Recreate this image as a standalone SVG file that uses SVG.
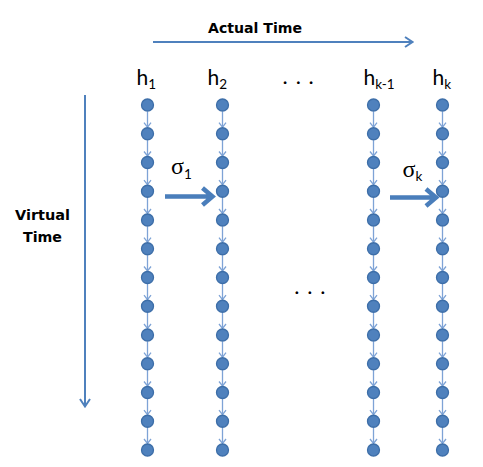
<svg xmlns="http://www.w3.org/2000/svg" width="483" height="467" viewBox="0 0 483 467">
<style>
.n{fill:#4f81bd;stroke:#3d6ea8;stroke-width:1.3}
.c{stroke:#7ea3d6;stroke-width:1.3;fill:none;marker-end:url(#sm)}
.ax{stroke:#4f81bd;stroke-width:2;fill:none}
.sg{stroke:#4a7ebb;stroke-width:4.5;fill:none}
.lbl{font-family:Lato,'Liberation Sans',sans-serif;fill:#000}
.ttl{font-family:'DejaVu Sans','Liberation Sans',sans-serif;font-weight:bold;font-size:13.5px;fill:#000}
.sig{font-family:'Liberation Serif','DejaVu Serif',serif;font-size:24px;fill:#000}
</style>
<defs>
<marker id="sm" markerUnits="userSpaceOnUse" markerWidth="10" markerHeight="10" viewBox="-6 -5 8 10" refX="0" refY="0" orient="auto">
<path d="M-4.5,-3.5 L0,0 L-4.5,3.5" fill="none" stroke="#7ea3d6" stroke-width="1.3"/>
</marker>
</defs>
<g id="axes">
<path class="ax" d="M153,42 H412 M405,37 L412.5,42 L405,47"/>
<path class="ax" d="M85,95 V406 M80,399 L85,406.5 L90,399"/>
<text class="ttl" x="208" y="33" textLength="94" lengthAdjust="spacingAndGlyphs">Actual Time</text>
<text class="ttl" x="15" y="220" textLength="55" lengthAdjust="spacingAndGlyphs">Virtual</text>
<text class="ttl" x="23" y="242" textLength="39" lengthAdjust="spacingAndGlyphs">Time</text>
</g>
<g id="labels">
<text class="lbl" x="136.5" y="85" font-size="21">h<tspan font-size="13.5" dy="4">1</tspan></text>
<text class="lbl" x="207.5" y="85" font-size="21">h<tspan font-size="13.5" dy="4">2</tspan></text>
<text class="lbl" x="363.5" y="85" font-size="21">h<tspan font-size="13.5" dy="4">k-1</tspan></text>
<text class="lbl" x="432.5" y="85" font-size="21">h<tspan font-size="13.5" dy="4">k</tspan></text>
<text class="lbl" font-size="22" x="282.5 295.8 308.5" y="84">...</text>
<text class="lbl" font-size="22" x="294.2 307.2 320.2" y="294">...</text>
<text class="sig" x="171" y="173.5">σ<tspan font-size="13.5" font-family="Lato,'Liberation Sans',sans-serif" dy="5">1</tspan></text>
<text class="sig" x="402.5" y="176.5">σ<tspan font-size="13.5" font-family="Lato,'Liberation Sans',sans-serif" dy="4">k</tspan></text>
</g>
<g id="connectors">
<path class="sg" d="M165,196.5 H212 M202.5,188 L212.5,196.5 L202.5,205"/>
<path class="sg" d="M390,197.5 H435.5 M426,189 L436,197.5 L426,206"/>
<line class="c" x1="147.5" y1="111.5" x2="147.5" y2="127.2"/>
<line class="c" x1="147.5" y1="140.2" x2="147.5" y2="156"/>
<line class="c" x1="147.5" y1="169" x2="147.5" y2="184.7"/>
<line class="c" x1="147.5" y1="197.7" x2="147.5" y2="213.5"/>
<line class="c" x1="147.5" y1="226.5" x2="147.5" y2="242.2"/>
<line class="c" x1="147.5" y1="255.2" x2="147.5" y2="271"/>
<line class="c" x1="147.5" y1="284" x2="147.5" y2="299.7"/>
<line class="c" x1="147.5" y1="312.7" x2="147.5" y2="328.5"/>
<line class="c" x1="147.5" y1="341.5" x2="147.5" y2="357.2"/>
<line class="c" x1="147.5" y1="370.2" x2="147.5" y2="386"/>
<line class="c" x1="147.5" y1="399" x2="147.5" y2="414.7"/>
<line class="c" x1="147.5" y1="427.7" x2="147.5" y2="443.5"/>
<line class="c" x1="222.5" y1="111.5" x2="222.5" y2="127.2"/>
<line class="c" x1="222.5" y1="140.2" x2="222.5" y2="156"/>
<line class="c" x1="222.5" y1="169" x2="222.5" y2="184.7"/>
<line class="c" x1="222.5" y1="197.7" x2="222.5" y2="213.5"/>
<line class="c" x1="222.5" y1="226.5" x2="222.5" y2="242.2"/>
<line class="c" x1="222.5" y1="255.2" x2="222.5" y2="271"/>
<line class="c" x1="222.5" y1="284" x2="222.5" y2="299.7"/>
<line class="c" x1="222.5" y1="312.7" x2="222.5" y2="328.5"/>
<line class="c" x1="222.5" y1="341.5" x2="222.5" y2="357.2"/>
<line class="c" x1="222.5" y1="370.2" x2="222.5" y2="386"/>
<line class="c" x1="222.5" y1="399" x2="222.5" y2="414.7"/>
<line class="c" x1="222.5" y1="427.7" x2="222.5" y2="443.5"/>
<line class="c" x1="373.5" y1="111.5" x2="373.5" y2="127.2"/>
<line class="c" x1="373.5" y1="140.2" x2="373.5" y2="156"/>
<line class="c" x1="373.5" y1="169" x2="373.5" y2="184.7"/>
<line class="c" x1="373.5" y1="197.7" x2="373.5" y2="213.5"/>
<line class="c" x1="373.5" y1="226.5" x2="373.5" y2="242.2"/>
<line class="c" x1="373.5" y1="255.2" x2="373.5" y2="271"/>
<line class="c" x1="373.5" y1="284" x2="373.5" y2="299.7"/>
<line class="c" x1="373.5" y1="312.7" x2="373.5" y2="328.5"/>
<line class="c" x1="373.5" y1="341.5" x2="373.5" y2="357.2"/>
<line class="c" x1="373.5" y1="370.2" x2="373.5" y2="386"/>
<line class="c" x1="373.5" y1="399" x2="373.5" y2="414.7"/>
<line class="c" x1="373.5" y1="427.7" x2="373.5" y2="443.5"/>
<line class="c" x1="442.5" y1="111.5" x2="442.5" y2="127.2"/>
<line class="c" x1="442.5" y1="140.2" x2="442.5" y2="156"/>
<line class="c" x1="442.5" y1="169" x2="442.5" y2="184.7"/>
<line class="c" x1="442.5" y1="197.7" x2="442.5" y2="213.5"/>
<line class="c" x1="442.5" y1="226.5" x2="442.5" y2="242.2"/>
<line class="c" x1="442.5" y1="255.2" x2="442.5" y2="271"/>
<line class="c" x1="442.5" y1="284" x2="442.5" y2="299.7"/>
<line class="c" x1="442.5" y1="312.7" x2="442.5" y2="328.5"/>
<line class="c" x1="442.5" y1="341.5" x2="442.5" y2="357.2"/>
<line class="c" x1="442.5" y1="370.2" x2="442.5" y2="386"/>
<line class="c" x1="442.5" y1="399" x2="442.5" y2="414.7"/>
<line class="c" x1="442.5" y1="427.7" x2="442.5" y2="443.5"/>
</g>
<g id="h1">
<circle class="n" cx="147.5" cy="105" r="6"/><circle class="n" cx="147.5" cy="133.75" r="6"/><circle class="n" cx="147.5" cy="162.5" r="6"/><circle class="n" cx="147.5" cy="191.25" r="6"/><circle class="n" cx="147.5" cy="220" r="6"/><circle class="n" cx="147.5" cy="248.75" r="6"/><circle class="n" cx="147.5" cy="277.5" r="6"/><circle class="n" cx="147.5" cy="306.25" r="6"/><circle class="n" cx="147.5" cy="335" r="6"/><circle class="n" cx="147.5" cy="363.75" r="6"/><circle class="n" cx="147.5" cy="392.5" r="6"/><circle class="n" cx="147.5" cy="421.25" r="6"/><circle class="n" cx="147.5" cy="450" r="6"/>
</g>
<g id="h2">
<circle class="n" cx="222.5" cy="105" r="6"/><circle class="n" cx="222.5" cy="133.75" r="6"/><circle class="n" cx="222.5" cy="162.5" r="6"/><circle class="n" cx="222.5" cy="191.25" r="6"/><circle class="n" cx="222.5" cy="220" r="6"/><circle class="n" cx="222.5" cy="248.75" r="6"/><circle class="n" cx="222.5" cy="277.5" r="6"/><circle class="n" cx="222.5" cy="306.25" r="6"/><circle class="n" cx="222.5" cy="335" r="6"/><circle class="n" cx="222.5" cy="363.75" r="6"/><circle class="n" cx="222.5" cy="392.5" r="6"/><circle class="n" cx="222.5" cy="421.25" r="6"/><circle class="n" cx="222.5" cy="450" r="6"/>
</g>
<g id="hk-1">
<circle class="n" cx="373.5" cy="105" r="6"/><circle class="n" cx="373.5" cy="133.75" r="6"/><circle class="n" cx="373.5" cy="162.5" r="6"/><circle class="n" cx="373.5" cy="191.25" r="6"/><circle class="n" cx="373.5" cy="220" r="6"/><circle class="n" cx="373.5" cy="248.75" r="6"/><circle class="n" cx="373.5" cy="277.5" r="6"/><circle class="n" cx="373.5" cy="306.25" r="6"/><circle class="n" cx="373.5" cy="335" r="6"/><circle class="n" cx="373.5" cy="363.75" r="6"/><circle class="n" cx="373.5" cy="392.5" r="6"/><circle class="n" cx="373.5" cy="421.25" r="6"/><circle class="n" cx="373.5" cy="450" r="6"/>
</g>
<g id="hk">
<circle class="n" cx="442.5" cy="105" r="6"/><circle class="n" cx="442.5" cy="133.75" r="6"/><circle class="n" cx="442.5" cy="162.5" r="6"/><circle class="n" cx="442.5" cy="191.25" r="6"/><circle class="n" cx="442.5" cy="220" r="6"/><circle class="n" cx="442.5" cy="248.75" r="6"/><circle class="n" cx="442.5" cy="277.5" r="6"/><circle class="n" cx="442.5" cy="306.25" r="6"/><circle class="n" cx="442.5" cy="335" r="6"/><circle class="n" cx="442.5" cy="363.75" r="6"/><circle class="n" cx="442.5" cy="392.5" r="6"/><circle class="n" cx="442.5" cy="421.25" r="6"/><circle class="n" cx="442.5" cy="450" r="6"/>
</g>
</svg>
